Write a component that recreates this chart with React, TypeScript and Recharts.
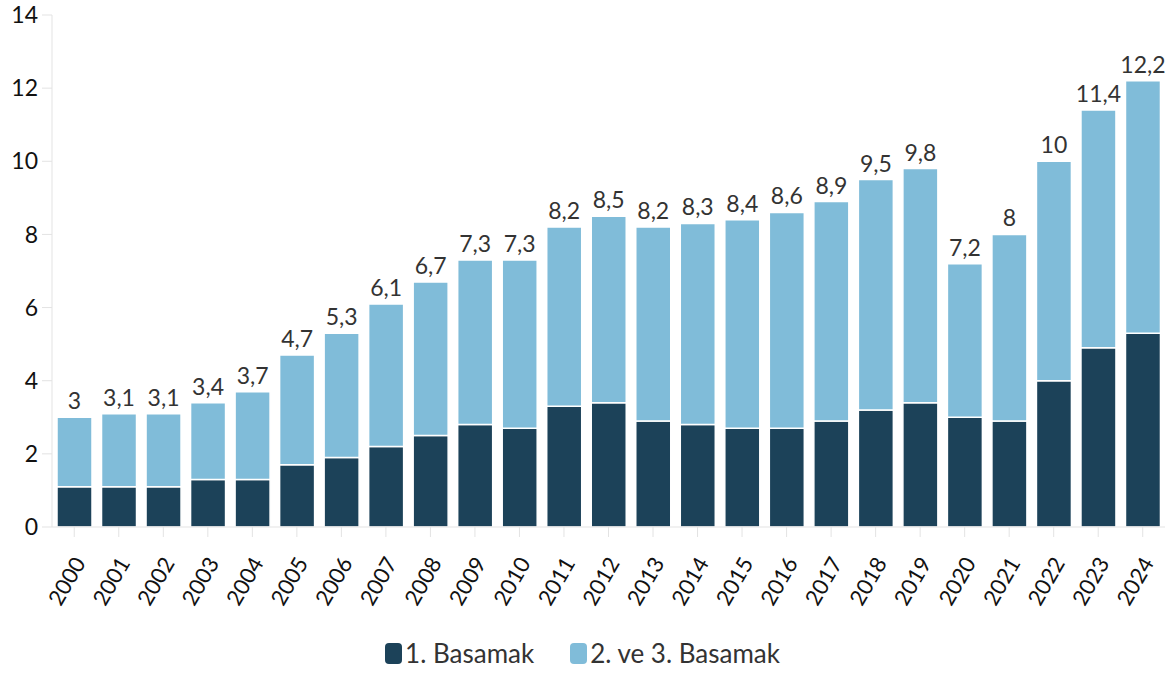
import { BarChart, Bar, XAxis, YAxis, LabelList, Legend } from "recharts";

const years = [
  "2000", "2001", "2002", "2003", "2004", "2005", "2006", "2007", "2008", "2009",
  "2010", "2011", "2012", "2013", "2014", "2015", "2016", "2017", "2018", "2019",
  "2020", "2021", "2022", "2023", "2024",
];
const firstLevel = [
  1.1, 1.1, 1.1, 1.3, 1.3, 1.7, 1.9, 2.2, 2.5, 2.8,
  2.7, 3.3, 3.4, 2.9, 2.8, 2.7, 2.7, 2.9, 3.2, 3.4,
  3.0, 2.9, 4.0, 4.9, 5.3,
];
const totals = [
  3, 3.1, 3.1, 3.4, 3.7, 4.7, 5.3, 6.1, 6.7, 7.3,
  7.3, 8.2, 8.5, 8.2, 8.3, 8.4, 8.6, 8.9, 9.5, 9.8,
  7.2, 8, 10, 11.4, 12.2,
];
const yTicks = [0, 2, 4, 6, 8, 10, 12, 14];

const DARK = "#1c4259";
const LIGHT = "#80bcd9";
const FONT = "Lato, 'Noto Sans', sans-serif";

const data = years.map((y, i) => ({
  year: y,
  first: firstLevel[i],
  rest: Math.round((totals[i] - firstLevel[i]) * 10) / 10,
  total: totals[i],
}));

const fmt = (v: number) => String(v).replace(".", ",");

function YearTick({ x, y, payload }: any) {
  return (
    <g transform={`translate(${x + 12},${y + 24})`}>
      <text
        textAnchor="end"
        transform="rotate(-60)"
        fontSize={22}
        fill="#111"
        fontFamily={FONT}
      >
        {payload.value}
      </text>
    </g>
  );
}

function LegendBox() {
  const items = [
    { label: "1. Basamak", color: DARK },
    { label: "2. ve 3. Basamak", color: LIGHT },
  ];
  return (
    <div
      style={{
        display: "flex",
        justifyContent: "center",
        gap: 36,
        fontFamily: FONT,
        fontSize: 26,
        color: "#333",
        paddingTop: 10,
      }}
    >
      {items.map((it) => (
        <div key={it.label} style={{ display: "flex", alignItems: "center" }}>
          <span
            style={{
              display: "inline-block",
              width: 17,
              height: 21,
              borderRadius: 4,
              background: it.color,
              marginRight: 3,
            }}
          />
          {it.label}
        </div>
      ))}
    </div>
  );
}

export default function App() {
  return (
    <div style={{ width: 1170, height: 673, background: "#fff" }}>
      <style>{`body{margin:0}`}</style>
      <BarChart
        width={1170}
        height={673}
        data={data}
        margin={{ top: 15, right: 5, bottom: 4, left: 0 }}
        barCategoryGap={5}
      >
        <YAxis
          width={52}
          domain={[0, 14]}
          ticks={yTicks}
          interval={0}
          stroke="#e3e3e3"
          tickLine={{ stroke: "#e3e3e3" }}
          tickSize={10}
          tick={{ fill: "#111", fontSize: 23, fontFamily: FONT, dx: -2 }}
        />
        <XAxis
          dataKey="year"
          interval={0}
          stroke="#e3e3e3"
          tickLine={{ stroke: "#e3e3e3" }}
          tickSize={10}
          height={100}
          tick={<YearTick />}
        />
        <Legend verticalAlign="bottom" content={() => <LegendBox />} />
        <Bar
          dataKey="first"
          stackId="a"
          fill={DARK}
          stroke="#fff"
          strokeWidth={1.5}
          isAnimationActive={false}
        />
        <Bar
          dataKey="rest"
          stackId="a"
          fill={LIGHT}
          stroke="#fff"
          strokeWidth={1.5}
          isAnimationActive={false}
        >
          <LabelList
            dataKey="total"
            position="top"
            offset={8}
            formatter={(v: any) => fmt(Number(v))}
            style={{ fill: "#333", fontSize: 23, fontFamily: FONT }}
          />
        </Bar>
      </BarChart>
    </div>
  );
}
